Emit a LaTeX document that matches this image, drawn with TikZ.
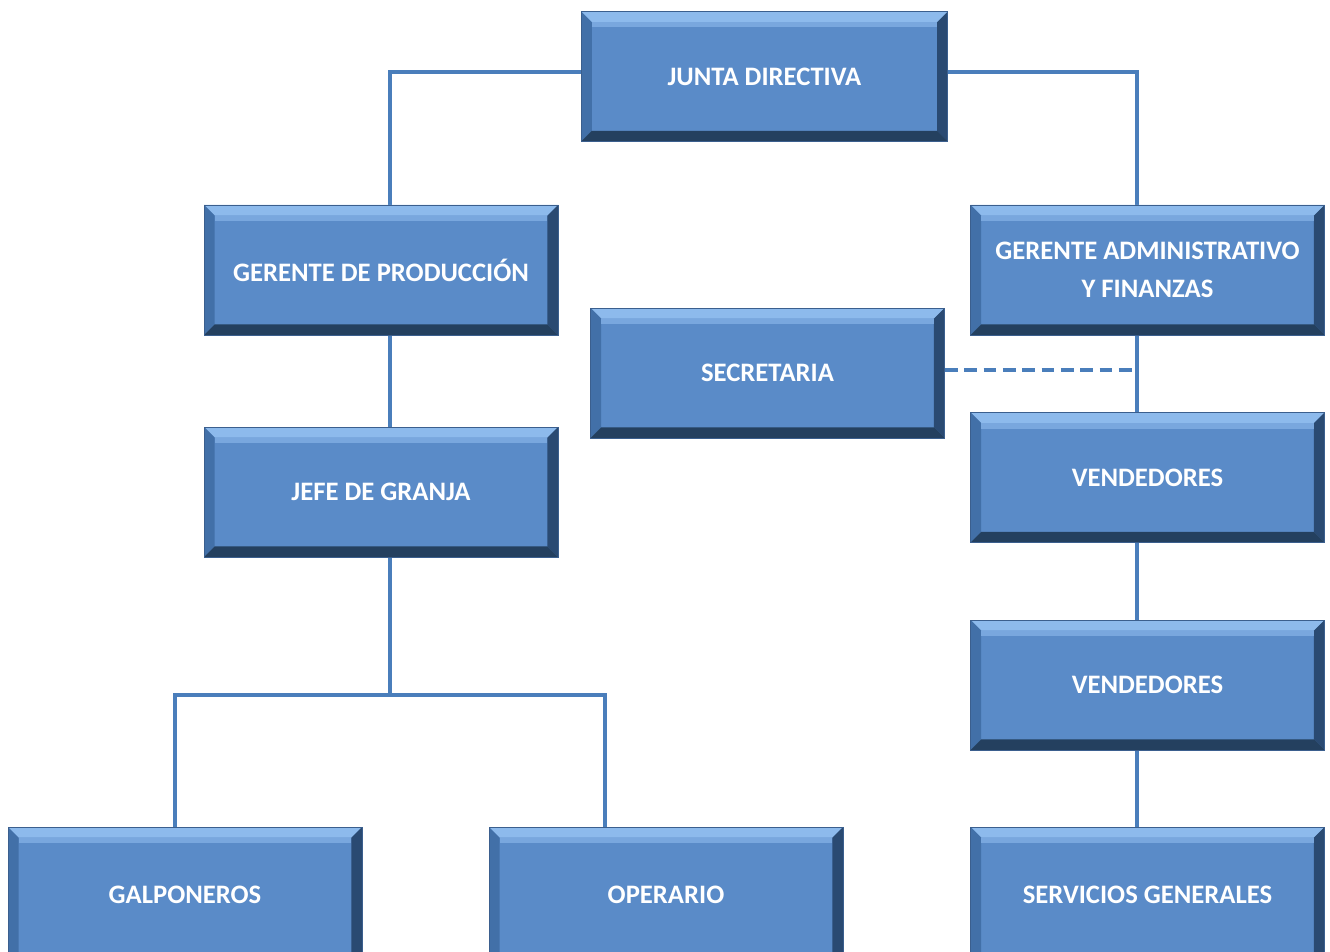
\documentclass[tikz,border=0pt]{standalone}
\usepackage{fontspec}
\setmainfont{Carlito}
\usetikzlibrary{backgrounds,calc}
\definecolor{boxmid}{HTML}{5A8BC8}
\definecolor{boxtop}{HTML}{8DBAEC}
\definecolor{boxleft}{HTML}{4270A8}
\definecolor{boxright}{HTML}{2A4A72}
\definecolor{boxbot}{HTML}{24405F}
\definecolor{boxline}{HTML}{3B5F8E}
\definecolor{conncol}{HTML}{4A7EBB}
\tikzset{
  orgbox/.style={rectangle, inner sep=0pt, minimum width=265.5pt, minimum height=97.5pt,
    fill=boxmid, draw=boxline, line width=0.6pt, text=white, align=center,
    font=\bfseries\fontsize{20}{28}\selectfont,
    path picture={
      \coordinate (sw) at (path picture bounding box.south west);
      \coordinate (ne) at (path picture bounding box.north east);
      \coordinate (nw) at (sw |- ne);
      \coordinate (se) at (ne |- sw);
      \fill[boxtop] (nw) -- (ne) -- ([shift={(-8pt,-8pt)}]ne) -- ([shift={(8pt,-8pt)}]nw) -- cycle;
      \fill[boxleft] (nw) -- (sw) -- ([shift={(8pt,8pt)}]sw) -- ([shift={(8pt,-8pt)}]nw) -- cycle;
      \fill[boxright] (ne) -- (se) -- ([shift={(-8pt,8pt)}]se) -- ([shift={(-8pt,-8pt)}]ne) -- cycle;
      \fill[boxbot] (sw) -- (se) -- ([shift={(-8pt,8pt)}]se) -- ([shift={(8pt,8pt)}]sw) -- cycle;
      \fill[boxtop!60!boxmid] ([shift={(8pt,-8pt)}]nw) rectangle ([shift={(-8pt,-12pt)}]ne);
    }},
  conn/.style={draw=conncol, line width=3pt},
  dconn/.style={conn, dash pattern=on 9.5pt off 5pt}
}
\begin{document}
\begin{tikzpicture}[x=0.75pt,y=-0.75pt]
\useasboundingbox (0,0) rectangle (1330,952);
\clip (0,0) rectangle (1330,952);
\node[orgbox, minimum width=275pt] (J) at (764.5,76.5) {JUNTA DIRECTIVA};
\node[orgbox] (GP) at (381,270) {GERENTE DE PRODUCCIÓN};
\node[orgbox] (GA) at (1147.5,270) {GERENTE ADMINISTRATIVO\\Y FINANZAS};
\node[orgbox] (SEC) at (767.5,373) {SECRETARIA};
\node[orgbox] (JG) at (381,492) {JEFE DE GRANJA};
\node[orgbox] (V1) at (1147.5,477.5) {VENDEDORES};
\node[orgbox] (V2) at (1147.5,685) {VENDEDORES};
\node[orgbox, minimum height=102pt] (GAL) at (185,895) {GALPONEROS};
\node[orgbox, minimum height=102pt] (OP) at (666,895) {OPERARIO};
\node[orgbox, minimum height=102pt] (SG) at (1147.5,895) {SERVICIOS GENERALES};
\coordinate (lx) at ([xshift=6.75pt]GP.north);
\coordinate (rx) at ([xshift=-7.9pt]GA.north);
\coordinate (jy) at ([yshift=3.4pt]J.west);
\coordinate (jr) at ([yshift=3.4pt]J.east);
\coordinate (split) at ($([xshift=6.75pt]JG.south)+(0,138)$);
\coordinate (galtop) at ([xshift=-7.5pt]GAL.north);
\coordinate (optop) at ([xshift=-45.75pt]OP.north);
\begin{scope}[on background layer]
\fill[white] (0,0) rectangle (1330,952);
\draw[conn] (jy) -| (lx);
\draw[conn] (jr) -| (rx);
\draw[conn] ([xshift=-7.9pt]GA.south) -- ([xshift=-7.9pt]V1.north);
\draw[conn] ([xshift=6.75pt]GP.south) -- ([xshift=6.75pt]JG.north);
\draw[conn] ([xshift=6.75pt]JG.south) -- (split);
\draw[conn] (galtop) |- (split) -| (optop);
\draw[conn] ([xshift=-7.9pt]V1.south) -- ([xshift=-7.9pt]V2.north);
\draw[conn] ([xshift=-7.9pt]V2.south) -- ([xshift=-7.9pt]SG.north);
\draw[dconn] ([yshift=2.2pt]SEC.east) -- ([yshift=2.2pt]SEC.east -| rx);
\end{scope}
\end{tikzpicture}
\end{document}
